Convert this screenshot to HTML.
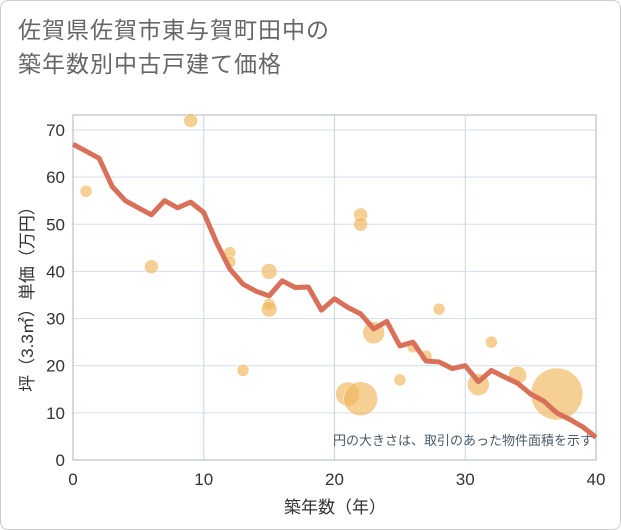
<!DOCTYPE html>
<html><head><meta charset="utf-8"><style>
body{margin:0;background:#fff;font-family:"Liberation Sans","Noto Sans CJK JP",sans-serif}
#wrap{position:relative;width:619px;height:528px;border:1px solid #ccc;border-radius:8px;overflow:hidden;background:#fff}
h1{position:absolute;left:17px;top:12px;margin:0;font-weight:normal;font-size:23px;line-height:34px;color:#666;letter-spacing:1px}
</style></head><body>
<div id="wrap">
<h1>佐賀県佐賀市東与賀町田中の<br>築年数別中古戸建て価格</h1>
<svg id="chart" width="621" height="530" style="position:absolute;left:-1px;top:-1px"></svg>
</div>
<script>
const lineYears=[0,1,2,3,4,5,6,7,8,9,10,11,12,13,14,15,16,17,18,19,20,21,22,23,24,25,26,27,28,29,30,31,32,33,34,35,36,37,38,39,40];
const lineValues=[67,65.5,64,58,55,53.5,52,55,53.5,54.7,52.5,46,40.5,37.3,35.8,34.8,38,36.6,36.7,31.8,34.2,32.4,31,27.8,29.4,24.2,25,21,20.8,19.4,20,16.6,19,17.6,16.3,14,12.5,10,8.6,7,4.8];
const bubbleYears=[1,6,9,12,12,13,15,15,15,21,22,22,22,23,25,26,27,28,31,32,34,37];
const bubbleValues=[57,41,72,44,42,19,40,33,32,14,13,52,50,27,17,24,22,32,16,25,18,14];
const bubbleSizes=[6,7,7,6,6,6,8,6,8,12,17,7,7,11,6,6,6,6,11,6,9,26];
const xTicks=[0,10,20,30,40];
const yTicks=[0,10,20,30,40,50,60,70];
const NS='http://www.w3.org/2000/svg';
const svg=document.getElementById('chart');
const X0=73,X1=596,Y0=460,Y1=130;
const xs=v=>X0+(X1-X0)*v/40;
const ys=v=>Y0-(Y0-Y1)*v/70;
function mk(t,a,p){const e=document.createElementNS(NS,t);for(const k in a)e.setAttribute(k,a[k]);(p||svg).appendChild(e);return e;}
yTicks.forEach(v=>{if(v===0)return;const y=ys(v);
const g=mk('line',{x1:X0,x2:X1,y1:y,y2:y,stroke:'#d3dfec','stroke-width':1});

});
for(let v=10;v<40;v+=10){
const g=mk('line',{x1:xs(v),x2:xs(v),y1:115,y2:Y0,stroke:'#c8d8ea','stroke-width':1});

}
const fr=mk('rect',{x:X0,y:115,width:X1-X0,height:Y0-115,fill:'none',stroke:'#aab4c0','stroke-width':1});


yTicks.forEach(v=>{const t=mk('text',{x:X0-8,y:ys(v)+6,'text-anchor':'end','font-size':17,fill:'#333'});t.textContent=v;

});
xTicks.forEach(v=>{const t=mk('text',{x:xs(v),y:Y0+25,'text-anchor':'middle','font-size':17,fill:'#333'});t.textContent=v;

});
const xt=mk('text',{x:335,y:513,'text-anchor':'middle','font-size':17,fill:'#333'});xt.textContent='築年数（年）';


const yt=mk('text',{x:0,y:0,'text-anchor':'middle','font-size':17,fill:'#333',transform:'translate(33,295) rotate(-90)'});yt.textContent='坪（3.3㎡）単価（万円）';


bubbleYears.forEach((yr,i)=>{const c=mk('circle',{cx:xs(yr),cy:ys(bubbleValues[i]),r:bubbleSizes[i],fill:'#f0b55a','fill-opacity':0.65,stroke:'#fff','stroke-width':0.5});

});
const pl=mk('polyline',{points:lineYears.map((y,i)=>xs(y)+','+ys(lineValues[i])).join(' '),fill:'none',stroke:'#d9705a','stroke-width':5,'stroke-linejoin':'round'});


const note=mk('text',{x:593,y:445,'text-anchor':'end','font-size':13,fill:'#4a5a6a'});note.textContent='円の大きさは、取引のあった物件面積を示す';


</script>
</body></html>
